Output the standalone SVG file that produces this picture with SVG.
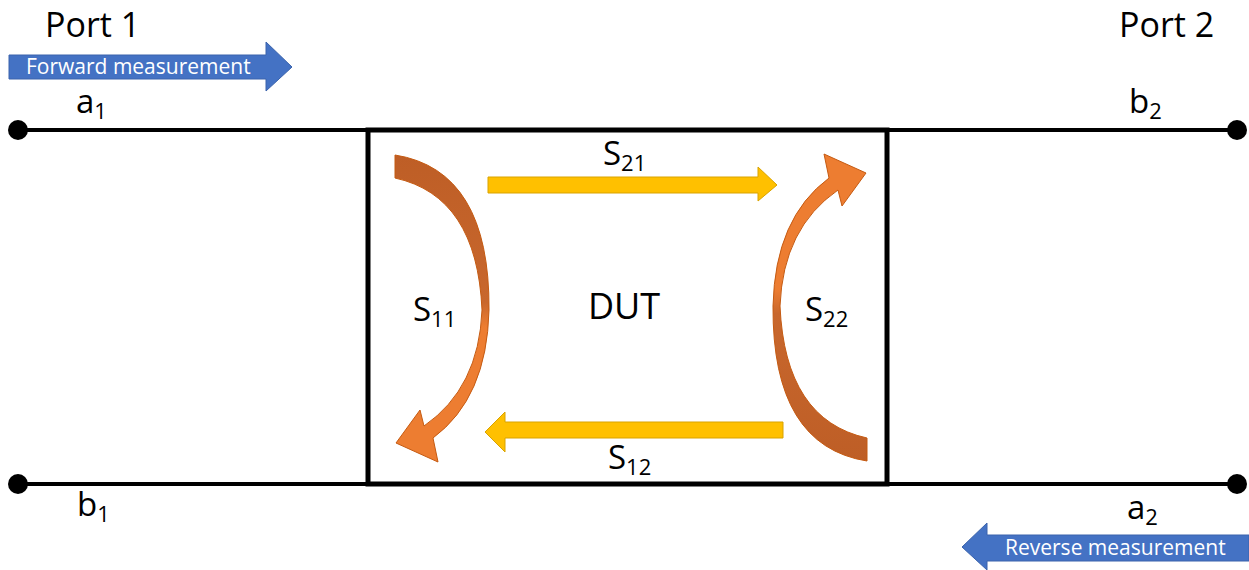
<svg xmlns="http://www.w3.org/2000/svg" width="1249" height="570" viewBox="0 0 1249 570">
<style>
.t{font-family:"Open Sans","Noto Sans",sans-serif;fill:#000}
.big{font-size:34px}
.lbl{font-size:33px}
.sub{font-size:22px}
.wt{font-family:"Open Sans","Noto Sans",sans-serif;fill:#fff;font-size:21px}
.blue{fill:#4472C4;stroke:#3A63AC;stroke-width:1}
.yel{fill:#FFC000;stroke:#D9A300;stroke-width:1}
.wire{stroke:#000;stroke-width:4;fill:none}
</style>
<defs>
<linearGradient id="og" x1="0" y1="0" x2="0" y2="1">
<stop offset="0" stop-color="#BE5E26"/>
<stop offset="0.48" stop-color="#C8672D"/>
<stop offset="0.56" stop-color="#ED7D31"/>
<stop offset="1" stop-color="#ED7D31"/>
</linearGradient>
<path id="curve" d="M395 155 Q490 170 489 310 Q487 398 433 438 L438 462 L396 443 L420 410 L424 426 Q479 388 482 310 Q477 196 395 178 Z" fill="url(#og)" stroke="#C55A11" stroke-width="1"/>
</defs>

<g id="connectors">
<line class="wire" x1="18" y1="130" x2="368" y2="130"/>
<line class="wire" x1="887" y1="130" x2="1237" y2="130"/>
<line class="wire" x1="18" y1="484" x2="368" y2="484"/>
<line class="wire" x1="887" y1="484" x2="1237" y2="484"/>
<circle cx="18" cy="130" r="10" fill="#000"/>
<circle cx="1237" cy="130" r="10" fill="#000"/>
<circle cx="18" cy="484" r="10" fill="#000"/>
<circle cx="1237" cy="484" r="10" fill="#000"/>
</g>

<g id="port1">
<text class="t big" x="45" y="37">Port 1</text>
<path class="blue" d="M9 55 L266 55 L266 42 L292 67 L266 91 L266 79 L9 79 Z"/>
<text class="wt" x="26" y="74">Forward measurement</text>
<text class="t lbl" x="76" y="113">a<tspan class="sub" dy="6">1</tspan></text>
<text class="t lbl" x="77" y="516">b<tspan class="sub" dy="6">1</tspan></text>
</g>

<g id="port2">
<text class="t big" x="1119" y="37">Port 2</text>
<text class="t lbl" x="1129" y="113">b<tspan class="sub" dy="6">2</tspan></text>
<text class="t lbl" x="1127" y="519">a<tspan class="sub" dy="6">2</tspan></text>
<path class="blue" d="M1249 535 L987 535 L987 523 L962 547 L987 570 L987 561 L1249 561 Z"/>
<text class="wt" x="1005" y="555">Reverse measurement</text>
</g>

<g id="dut">
<rect x="368" y="130" width="519" height="354" fill="none" stroke="#000" stroke-width="5"/>
<text class="t" font-size="36" x="624" y="319" text-anchor="middle">DUT</text>
</g>

<g id="s21">
<path class="yel" d="M488 177 L758 177 L758 167 L777 185 L758 201 L758 193 L488 193 Z"/>
<text class="t lbl" x="603" y="165">S<tspan class="sub" dy="6">21</tspan></text>
</g>

<g id="s12">
<path class="yel" d="M783 422 L505 422 L505 412 L485 432 L505 452 L505 438 L783 438 Z"/>
<text class="t lbl" x="608" y="469">S<tspan class="sub" dy="6">12</tspan></text>
</g>

<g id="s11">
<use href="#curve"/>
<text class="t lbl" x="413" y="321">S<tspan class="sub" dy="6">11</tspan></text>
</g>

<g id="s22">
<use href="#curve" transform="matrix(-1 0 0 -1 1262 616)"/>
<text class="t lbl" x="805" y="321">S<tspan class="sub" dy="6">22</tspan></text>
</g>
</svg>
